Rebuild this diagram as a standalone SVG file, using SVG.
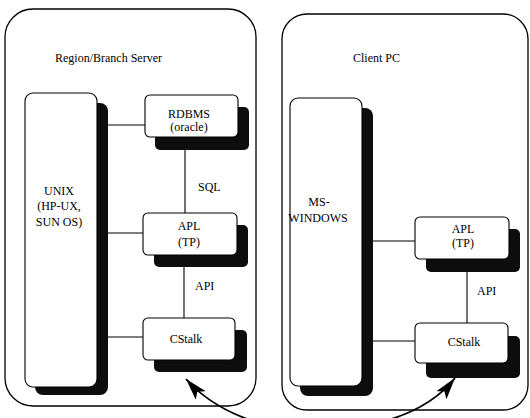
<svg xmlns="http://www.w3.org/2000/svg" width="530" height="418" viewBox="0 0 530 418" font-family="'Liberation Serif', 'Times New Roman', serif" font-size="12">
<style>
.outer{fill:#fff;stroke:#000;stroke-width:1.3}
.box{fill:#fff;stroke:#000;stroke-width:1.1}
.sh{fill:#0d0d0d}
.ln{stroke:#000;stroke-width:1.1;fill:none}
.arr{stroke:#000;stroke-width:1.8;fill:none}
text{font-family:'Liberation Serif','Times New Roman',serif;font-size:12px;fill:#000}
.c{text-anchor:middle}
</style>
<defs>
<marker id="ah" viewBox="0 0 22 13" refX="22" refY="6.5" markerWidth="22" markerHeight="13" markerUnits="userSpaceOnUse" orient="auto">
<path d="M0,0 L22,6.5 L0,13 L5,6.5 Z" fill="#000"/>
</marker>
</defs>
<rect width="530" height="418" fill="#fff"/>
<g id="server">
<rect class="outer" x="5" y="9" width="251" height="397" rx="28"/>
<text x="55" y="62">Region/Branch Server</text>
</g>
<g id="client">
<rect class="outer" x="282" y="14" width="246" height="396" rx="25"/>
<text x="353" y="62">Client PC</text>
</g>
<g id="connectors">
<line class="ln" x1="107" y1="125" x2="145" y2="125"/>
<line class="ln" x1="185" y1="149" x2="185" y2="213"/>
<line class="ln" x1="107" y1="233" x2="143" y2="233"/>
<line class="ln" x1="184" y1="267" x2="184" y2="318"/>
<line class="ln" x1="107" y1="337" x2="143" y2="337"/>
<line class="ln" x1="372" y1="241" x2="415" y2="241"/>
<line class="ln" x1="467" y1="271" x2="467" y2="323"/>
<line class="ln" x1="372" y1="341" x2="415" y2="341"/>
<text x="198" y="191">SQL</text>
<text x="195" y="290">API</text>
<text x="477" y="295">API</text>
<path class="arr" d="M250,420 Q210,406 186,379" marker-end="url(#ah)"/>
<path class="arr" d="M388,420 Q432,407 455,378" marker-end="url(#ah)"/>
</g>
<g id="unix">
<rect class="sh" x="35" y="103" width="73" height="292" rx="8"/>
<rect class="box" x="25" y="93" width="72" height="294" rx="8"/>
<text class="c" x="59" y="195">UNIX</text>
<text class="c" x="59" y="210">(HP-UX,</text>
<text class="c" x="59" y="226">SUN OS)</text>
</g>
<g id="rdbms">
<rect class="sh" x="155" y="107" width="94" height="43" rx="5"/>
<rect class="box" x="145" y="95" width="93" height="42" rx="5"/>
<text class="c" x="189" y="118">RDBMS</text>
<text class="c" x="189" y="131">(oracle)</text>
</g>
<g id="apl-left">
<rect class="sh" x="154" y="225" width="94" height="42" rx="5"/>
<rect class="box" x="143" y="213" width="94" height="42" rx="5"/>
<text class="c" x="189" y="230">APL</text>
<text class="c" x="189" y="246">(TP)</text>
</g>
<g id="cstalk-left">
<rect class="sh" x="154" y="330" width="93" height="42" rx="5"/>
<rect class="box" x="143" y="318" width="92" height="42" rx="5"/>
<text class="c" x="186" y="343">CStalk</text>
</g>
<g id="mswindows">
<rect class="sh" x="300" y="108" width="73" height="288" rx="8"/>
<rect class="box" x="290" y="98" width="72" height="288" rx="8"/>
<text class="c" x="319" y="206">MS-</text>
<text class="c" x="318" y="222">WINDOWS</text>
</g>
<g id="apl-right">
<rect class="sh" x="426" y="229" width="94" height="43" rx="5"/>
<rect class="box" x="415" y="217" width="94" height="42" rx="5"/>
<text class="c" x="463" y="233">APL</text>
<text class="c" x="463" y="247">(TP)</text>
</g>
<g id="cstalk-right">
<rect class="sh" x="426" y="336" width="94" height="42" rx="5"/>
<rect class="box" x="415" y="323" width="93" height="40" rx="5"/>
<text class="c" x="464" y="346">CStalk</text>
</g>
</svg>
